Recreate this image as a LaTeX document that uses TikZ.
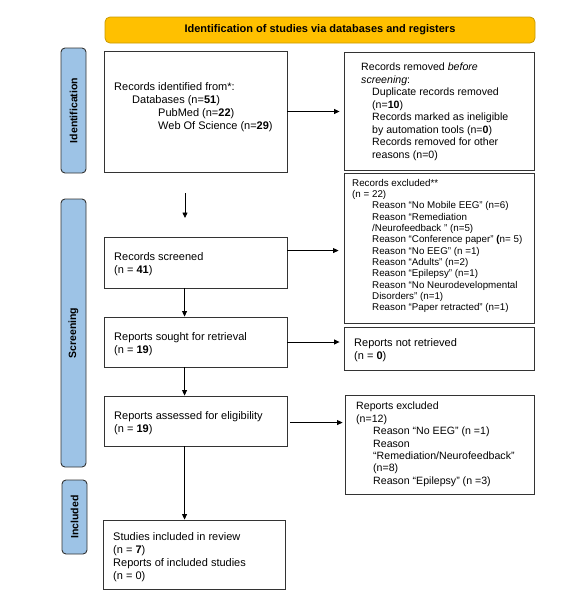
\documentclass[tikz,border=0pt]{standalone}
\usepackage{fontspec}
\setmainfont{Liberation Sans}
\usetikzlibrary{arrows.meta,fit,calc}
\definecolor{bannerfill}{HTML}{FFC000}
\definecolor{bannerdraw}{HTML}{C99A00}
\definecolor{sidefill}{HTML}{9DC3E6}
\definecolor{edge}{HTML}{333333}
\begin{document}
\begin{tikzpicture}[x=1pt,y=-1pt,
  box/.style={draw=edge, line width=0.9pt, inner sep=0pt, fill=white},
  banner/.style={draw=bannerdraw, fill=bannerfill, line width=0.8pt, rounded corners=5pt, inner sep=0pt},
  side/.style={draw=edge, fill=sidefill, line width=0.9pt, rounded corners=4pt, inner sep=0pt},
  sidetext/.style={rotate=90, font=\bfseries\fontsize{10.5}{12}\selectfont, inner sep=0pt},
  txt/.style={anchor=north west, align=left, inner sep=0pt, font=\fontsize{11}{13}\selectfont},
  remtxt/.style={txt, font=\fontsize{10.6}{12.5}\selectfont},
  excltxt/.style={txt, font=\fontsize{9.8}{11.3}\selectfont},
  reptxt/.style={txt, font=\fontsize{10.6}{12.4}\selectfont},
  arr/.style={draw=black, line width=0.8pt, -{Triangle[length=5.5pt,width=5pt]}}
]
\useasboundingbox (0,0) rectangle (574,616);

% banner
\node[banner, fit={(105,17) (535,43)}] (banner) {};
\node[font=\bfseries\fontsize{11}{12}\selectfont, inner sep=0pt] (bannertext) at (banner.center) {Identification of studies via databases and registers};

% side labels
\node[side, fit={(61,48) (86,173)}] (idlab) {};
\node[sidetext] (idlabtext) at (idlab.center) {Identification};
\node[side, fit={(61,199) (86,467)}] (scrlab) {};
\node[sidetext] (scrlabtext) at (scrlab.center) {Screening};
\node[side, fit={(62,480) (87,554)}] (inclab) {};
\node[sidetext] (inclabtext) at (inclab.center) {Included};

% boxes
\node[box, fit={(104,51) (287,172)}] (recid) {};
\node[box, fit={(344,52) (534,170)}] (rem) {};
\node[box, fit={(344,173) (534,323)}] (excl) {};
\node[box, fit={(104,237) (287,288)}] (screened) {};
\node[box, fit={(104,317) (287,367)}] (sought) {};
\node[box, fit={(344,327) (534,370)}] (notret) {};
\node[box, fit={(104,396) (287,446)}] (assessed) {};
\node[box, fit={(345,395) (534,494)}] (repexcl) {};
\node[box, fit={(103,520) (285,589)}] (included) {};

% texts
\node[txt] (recidtext) at (114,82) {Records identified from*:\\
\hspace*{18pt}Databases (n=\textbf{51})\\
\hspace*{44pt}PubMed (n=\textbf{22})\\
\hspace*{44pt}Web Of Science (n=\textbf{29})};

\node[remtxt] (remtext) at (361,63) {Records removed \textit{before}\\
\textit{screening}:\\
\hspace*{11pt}Duplicate records removed\\
\hspace*{11pt}(n=\textbf{10})\\
\hspace*{11pt}Records marked as ineligible\\
\hspace*{11pt}by automation tools (n=\textbf{0})\\
\hspace*{11pt}Records removed for other\\
\hspace*{11pt}reasons (n=0)};

\node[excltxt] (excltext) at (352,179) {Records excluded**\\
(n = 22)\\
\hspace*{20pt}Reason “No Mobile EEG” (n=6)\\
\hspace*{20pt}Reason “Remediation\\
\hspace*{20pt}/Neurofeedback ” (n=5)\\
\hspace*{20pt}Reason “Conference paper” \textbf{(}n= 5)\\
\hspace*{20pt}Reason “No EEG” (n =1)\\
\hspace*{20pt}Reason “Adults” (n=2)\\
\hspace*{20pt}Reason “Epilepsy” (n=1)\\
\hspace*{20pt}Reason “No Neurodevelopmental\\
\hspace*{20pt}Disorders” (n=1)\\
\hspace*{20pt}Reason “Paper retracted” (n=1)};

\node[txt] (screenedtext) at (114,252) {Records screened\\(n = \textbf{41})};
\node[txt] (soughttext) at (114,332) {Reports sought for retrieval\\(n = \textbf{19})};
\node[txt] (notrettext) at (354,338) {Reports not retrieved\\(n = \textbf{0})};
\node[txt] (assessedtext) at (114,411) {Reports assessed for eligibility\\(n = \textbf{19})};

\node[reptxt] (repexcltext) at (356,402) {Reports excluded\\
(n=12)\\
\hspace*{17pt}Reason “No EEG” (n =1)\\
\hspace*{17pt}Reason\\
\hspace*{17pt}“Remediation/Neurofeedback”\\
\hspace*{17pt}(n=8)\\
\hspace*{17pt}Reason “Epilepsy” (n =3)};

\node[txt] (includedtext) at (113,532) {Studies included in review\\
(n = \textbf{7})\\
Reports of included studies\\
(n = 0)};

% connectors
\draw[arr, shorten >=4pt] (recid.east) -- (recid.east -| rem.west);
\coordinate (freetop) at (185,193);
\coordinate (freebot) at (185,218);
\draw[arr] (freetop) -- (freebot);
\coordinate (scrout) at ($(screened.north east)+(0,14)$);
\draw[arr, shorten >=5pt] (scrout) -- (scrout -| excl.west);
\draw[arr] ($(screened.south west)+(81,0)$) -- ($(sought.north west)+(81,0)$);
\draw[arr, shorten >=4pt] (sought.east) -- (sought.east -| notret.west);
\draw[arr] ($(sought.south west)+(81,0)$) -- ($(assessed.north west)+(81,0)$);
\coordinate (assout) at ($(assessed.north east)+(3,27)$);
\draw[arr, shorten >=2pt] (assout) -- (assout -| repexcl.west);
\draw[arr] ($(assessed.south west)+(81,0)$) -- ($(included.north west)+(82,0)$);
\end{tikzpicture}
\end{document}
